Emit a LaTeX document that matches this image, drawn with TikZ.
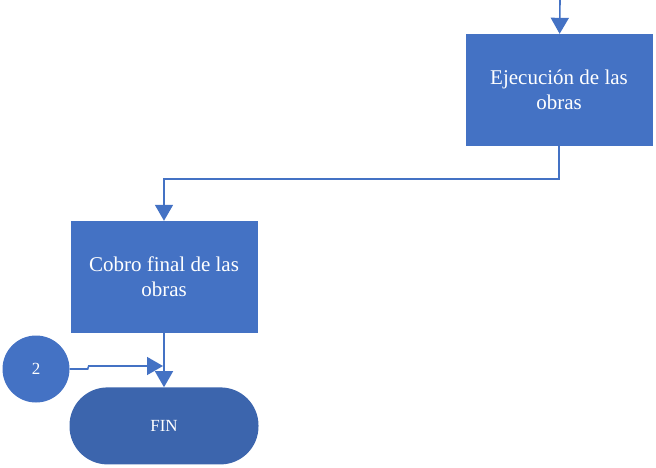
\documentclass[tikz,border=0pt]{standalone}
\usepackage{fontspec}
\setmainfont{Liberation Serif}
\usetikzlibrary{shapes.geometric, arrows.meta, positioning}
\definecolor{boxblue}{HTML}{4472C4}
\definecolor{finblue}{HTML}{3C65AD}

\begin{document}
\begin{tikzpicture}[
  x=1pt, y=-1pt,
  node distance=54pt and 2cm,
  box/.style={rectangle, fill=boxblue, text=white, minimum width=187pt, minimum height=112pt, align=center, font=\fontsize{21}{25}\selectfont},
  arrow/.style={draw=boxblue, line width=1.6pt, -{Triangle[width=18pt,length=16pt]}}
]
\useasboundingbox (0,0) rectangle (656,467);
\node (ejec) [box] at (559,90) {Ejecución de las\\obras};
\node (cobro) [box] at (164,277) {Cobro final de las\\obras};
\node (fin) [rectangle, rounded corners=38pt, fill=finblue, text=white, minimum width=189pt, minimum height=77pt, font=\fontsize{17}{19}\selectfont, below=of cobro] {FIN};
\node (dos) [circle, fill=boxblue, text=white, minimum size=67pt, font=\fontsize{17}{19}\selectfont] at (36,369) {2};
\coordinate (entrada) at (560,0);
\coordinate (junta) at (163,366);

\draw [arrow] (entrada) -- (ejec);
\draw [arrow] (ejec.south) -- ++(0,33) -| (cobro.north);
\draw [arrow] (cobro) -- (fin);
\draw [arrow] (dos.east) -- ++(18,0) -- ++(1,-3) -- (junta);
\end{tikzpicture}
\end{document}
